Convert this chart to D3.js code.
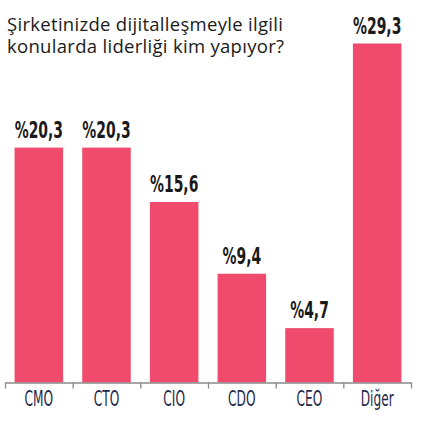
<!DOCTYPE html>
<html>
<head>
<meta charset="utf-8">
<script src="https://cdn.jsdelivr.net/npm/d3@7"></script>
<style>
  body { margin: 0; background: #fff; }
</style>
</head>
<body>
<div id="chart"></div>
<script>
const categories = ["CMO", "CTO", "CIO", "CDO", "CEO", "Diğer"]
const values = [20.3, 20.3, 15.6, 9.4, 4.7, 29.3]
const valueLabels = ["%20,3", "%20,3", "%15,6", "%9,4", "%4,7", "%29,3"]
const titleLines = ["Şirketinizde dijitalleşmeyle ilgili", "konularda liderliği kim yapıyor?"]

const W = 425, H = 427
const left = 5, right = 411, base = 382.5

const svg = d3.select("#chart").append("svg")
    .attr("width", W)
    .attr("height", H)

let x = d3.scaleBand().domain(categories).range([left, right]).padding(0)
let xEdge = d3.scaleLinear().domain([0, categories.length]).range([left, right])
let y = d3.scaleLinear().domain([0, 29.3]).range([base, 43.5])

let barW = x.bandwidth() * 0.717
let barOff = (x.bandwidth() - barW) / 2

// title
svg.append("text")
    .attr("x", 7)
    .attr("y", 30.7)
    .attr("font-family", "Open Sans, sans-serif")
    .attr("font-size", 18.5)
    .attr("letter-spacing", 0.3)
    .attr("fill", "#1a1a1a")
    .selectAll("tspan").data(titleLines)
    .enter().append("tspan")
    .attr("x", 7)
    .attr("dy", (d, i) => i ? 22.6 : 0)
    .text(d => d)

// bars
svg.selectAll("rect.bar").data(values)
    .enter().append("rect")
    .attr("class", "bar")
    .attr("x", (d, i) => x(categories[i]) + barOff)
    .attr("y", d => y(d))
    .attr("width", barW)
    .attr("height", d => base - y(d))
    .attr("fill", "#f04a6d")

// value labels (condensed by scaling)
const cond = 0.62
svg.selectAll("text.val").data(values)
    .enter().append("text")
    .attr("class", "val")
    .attr("text-anchor", "middle")
    .attr("font-family", "DejaVu Sans, sans-serif")
    .attr("font-weight", "bold")
    .attr("font-size", 22.5)
    .attr("fill", "#1a1a1a")
    .attr("transform", (d, i) => `translate(${x(categories[i]) + x.bandwidth() / 2},${y(d) - 10}) scale(${cond},1)`)
    .text((d, i) => valueLabels[i])

// axis with ticks at band edges
const axis = svg.append("g")
    .attr("transform", `translate(0,${base})`)
    .call(d3.axisBottom(xEdge).ticks(categories.length).tickFormat("").tickSize(6).tickSizeOuter(0))
axis.select(".domain").attr("stroke", "#8a8a8a").attr("stroke-width", 1.3)
axis.selectAll(".tick line").attr("stroke", "#8a8a8a").attr("stroke-width", 1.3)

// category labels
svg.selectAll("text.cat").data(categories)
    .enter().append("text")
    .attr("class", "cat")
    .attr("text-anchor", "middle")
    .attr("font-family", "DejaVu Sans, sans-serif")
    .attr("font-size", 21)
    .attr("fill", "#1f2a4d")
    .attr("transform", d => `translate(${x(d) + x.bandwidth() / 2},${406}) scale(0.58,1)`)
    .text(d => d)
</script>
</body>
</html>
